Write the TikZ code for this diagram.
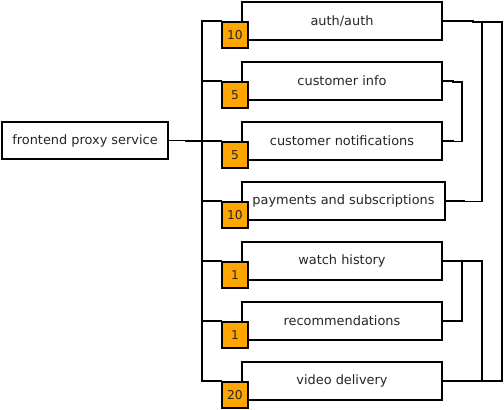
\documentclass[tikz,border=0pt]{standalone}
\usepackage{fontspec}
\setmainfont{DejaVu Sans}
\definecolor{badgeorange}{HTML}{FFA500}
\begin{document}
\begin{tikzpicture}[x=1pt,y=-1pt,line width=1.7pt,line cap=rect,
  svc/.style={rectangle,draw,fill=white,minimum width=200,minimum height=38,inner sep=0pt,text=black!85,font=\fontsize{12.9}{14}\selectfont},
  badge/.style={rectangle,draw,fill=badgeorange,minimum width=26,minimum height=26,inner sep=0pt,text=black!85,font=\fontsize{12.2}{14}\selectfont}]
\useasboundingbox (0,0) rectangle (504,410);
%\draw[help lines, step=10pt] (0,0) grid (504,410);
\node[svc,minimum width=166,minimum height=37](proxy) at (85,140.5) {frontend proxy service};
\node[svc](auth) at (342,21) {auth/auth};
\node[svc](info) at (342,81) {customer info};
\node[svc](notif) at (342,141) {customer notifications};
\node[svc,minimum width=203](pay) at (343.5,201) {payments and subscriptions};
\node[svc](watch) at (342,261) {watch history};
\node[svc](recs) at (342,321) {recommendations};
\node[svc](video) at (342,381) {video delivery};
\node[badge](b1) at (235,35) {10};
\node[badge](b2) at (235,95) {5};
\node[badge](b3) at (235,155) {5};
\node[badge](b4) at (235,215) {10};
\node[badge](b5) at (235,275) {1};
\node[badge](b6) at (235,335) {1};
\node[badge](b7) at (235,395) {20};

\coordinate(bustop) at (202,22);
\coordinate(busbot) at (202,381);
\coordinate(ra) at (502,22);
\coordinate(rb) at (502,381);
\coordinate(ma) at (482,22);
\coordinate(mb) at (482,201.5);
\coordinate(pa) at (462,82);
\coordinate(pb) at (462,141.5);
\coordinate(qa) at (482,261);
\coordinate(qb) at (482,381);
\coordinate(sa) at (462,261);
\coordinate(sb) at (462,321);

\draw(bustop)--(busbot);
\foreach \i in {1,...,7}
  \draw(b\i.north west)--(b\i.north west -| bustop);
\draw(proxy.east)--++(17,0) |- (b3.north west);

\draw(ra)--(rb);
\draw(ma)--(mb);
\draw(pa)--(pb);
\draw(qa)--(qb);
\draw(sa)--(sb);
\draw(auth.east)--++(30,0) |- (ra);
\draw(info.east)--++(10,0) |- (pa);
\draw(notif.east)--++(10,0) |- (pb);
\draw(pay.east)--++(18,0) |- (mb);
\draw(watch.east)--(qa);
\draw(recs.east)--(sb);
\draw(video.east)--++(20,0) |- (rb);
\end{tikzpicture}
\end{document}
